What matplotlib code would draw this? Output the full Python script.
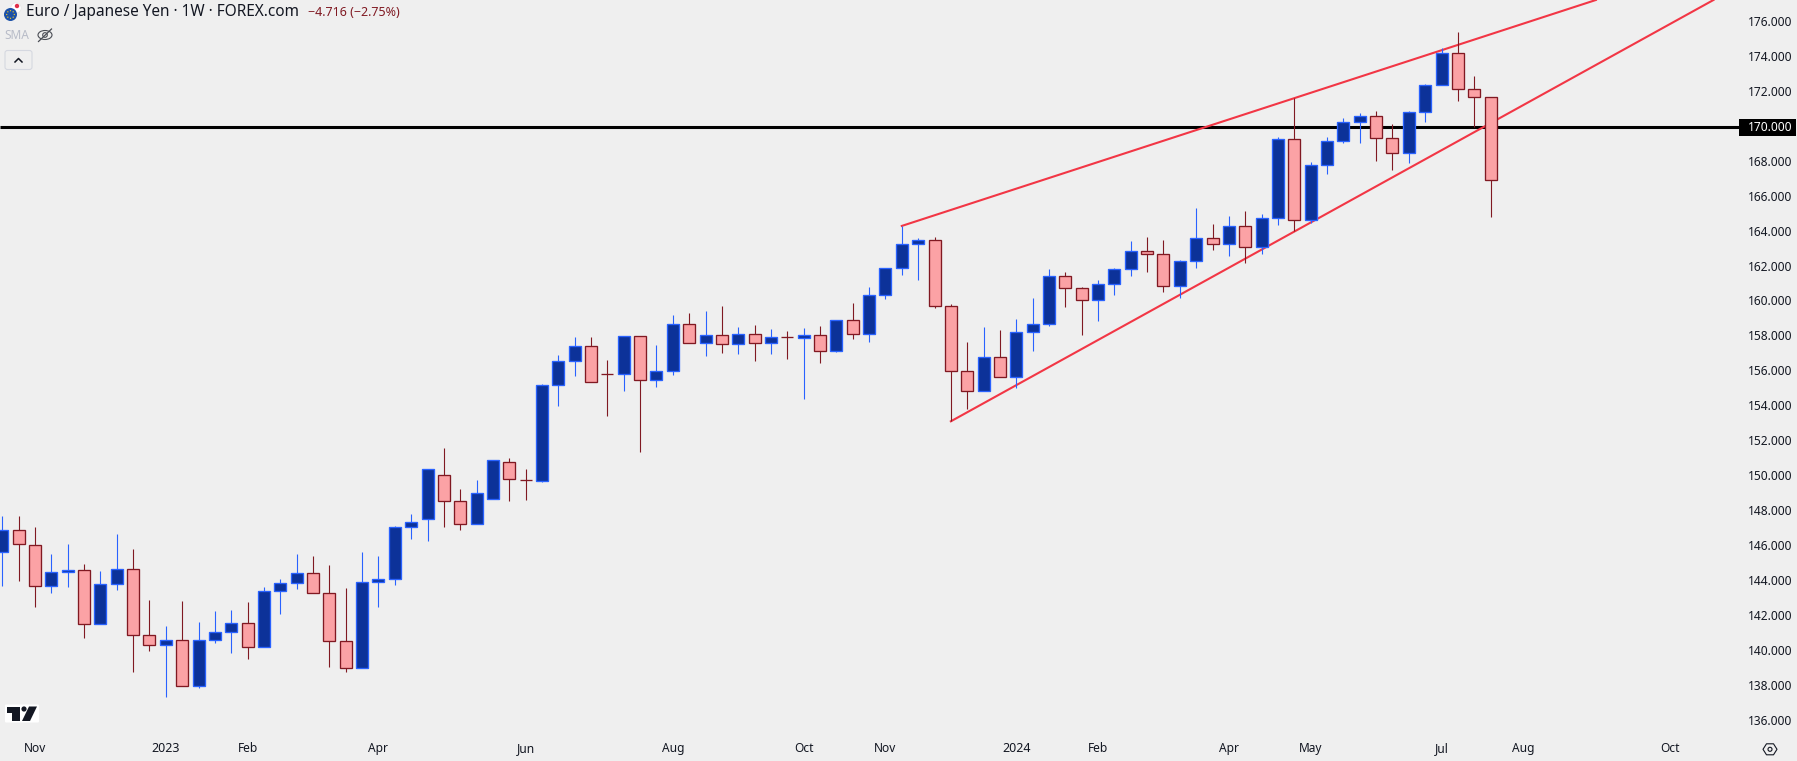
import matplotlib
matplotlib.use("Agg")
import matplotlib.pyplot as plt
from matplotlib.patches import Rectangle, Circle, Polygon, FancyBboxPatch, Ellipse
from matplotlib.lines import Line2D
from matplotlib.transforms import Affine2D, ScaledTranslation
import numpy as np

# Weekly EUR/JPY candles (24 Oct 2022 onward), one entry per week
opens = [145.65, 146.91, 146.05, 143.71, 144.51, 144.62, 141.53, 143.82, 144.68, 140.90,
         140.33, 140.62, 137.98, 140.62, 141.07, 141.59, 140.22, 143.42, 143.88, 144.45,
         143.31, 140.56, 139.01, 143.94, 144.11, 147.08, 147.54, 150.06, 148.57, 147.25,
         148.69, 150.80, 149.81, 149.75, 155.21, 156.58, 157.44, 155.84, 155.84, 158.01,
         155.49, 156.01, 158.70, 157.61, 158.07, 157.55, 158.13, 157.61, 157.96, 157.90,
         158.07, 157.15, 158.93, 158.13, 160.36, 161.90, 163.28, 163.51, 159.73, 156.01,
         154.87, 156.81, 155.67, 158.24, 158.70, 161.45, 160.76, 160.07, 160.99, 161.85,
         162.88, 162.71, 160.87, 162.30, 163.62, 163.28, 164.31, 163.11, 164.77, 169.29,
         164.65, 167.80, 169.17, 170.26, 170.60, 169.34, 168.48, 170.83, 172.38, 174.21,
         172.15, 171.69]
closes = [146.91, 146.11, 143.71, 144.51, 144.62, 141.53, 143.82, 144.68, 140.90, 140.33,
          140.62, 137.98, 140.62, 141.07, 141.59, 140.22, 143.42, 143.88, 144.45, 143.31,
          140.56, 139.01, 143.94, 144.11, 147.08, 147.37, 150.40, 148.57, 147.25, 149.03,
          150.92, 149.83, 149.81, 155.21, 156.58, 157.44, 155.38, 155.84, 158.01, 155.49,
          156.01, 158.70, 157.61, 158.07, 157.55, 158.13, 157.61, 157.96, 157.96, 158.07,
          157.15, 158.93, 158.13, 160.36, 161.90, 163.28, 163.51, 159.73, 156.01, 154.87,
          156.81, 155.67, 158.24, 158.70, 161.45, 160.76, 160.07, 160.99, 161.85, 162.88,
          162.71, 160.87, 162.30, 163.62, 163.28, 164.31, 163.11, 164.77, 169.29, 164.65,
          167.80, 169.17, 170.26, 170.60, 169.34, 168.48, 170.83, 172.38, 174.21, 172.15,
          171.69, 166.94]
highs = [147.73, 147.73, 147.10, 145.56, 146.13, 144.98, 144.58, 146.70, 145.84, 142.92,
         141.44, 142.87, 141.67, 142.30, 142.35, 142.81, 143.67, 144.13, 145.56, 145.44,
         144.93, 143.61, 145.67, 145.44, 147.16, 147.85, 150.40, 151.62, 149.28, 149.79,
         150.92, 151.05, 150.42, 155.29, 156.94, 157.97, 157.97, 156.66, 158.01, 158.01,
         157.52, 159.23, 159.35, 159.46, 159.75, 158.55, 158.66, 158.43, 158.32, 158.49,
         158.60, 158.93, 159.92, 160.84, 161.90, 164.33, 163.64, 163.70, 159.86, 157.69,
         158.55, 158.37, 159.00, 160.21, 161.87, 161.69, 160.84, 161.24, 161.90, 163.47,
         163.70, 163.53, 162.36, 165.36, 164.44, 164.90, 165.18, 165.01, 169.42, 171.63,
         167.97, 169.42, 170.51, 170.79, 170.91, 170.16, 170.91, 172.45, 174.51, 175.43,
         172.91, 171.69]
lows = [143.73, 144.03, 142.52, 143.33, 143.67, 140.75, 141.53, 143.50, 138.80, 140.01,
        137.37, 137.98, 137.89, 140.46, 139.89, 139.55, 140.22, 142.12, 143.55, 143.31,
        139.09, 138.80, 139.01, 142.52, 143.78, 146.42, 146.30, 147.10, 146.93, 147.25,
        148.69, 148.59, 148.65, 149.68, 154.03, 155.74, 155.38, 153.45, 154.88, 151.39,
        155.11, 155.80, 157.61, 156.89, 157.06, 157.00, 156.60, 157.00, 156.72, 154.43,
        156.49, 157.09, 157.86, 157.69, 160.15, 161.52, 161.24, 159.63, 153.15, 153.85,
        154.87, 155.67, 155.06, 157.17, 158.60, 159.69, 158.09, 158.89, 160.38, 161.47,
        161.69, 160.55, 160.21, 161.92, 162.95, 162.61, 162.19, 162.72, 164.38, 164.02,
        164.48, 167.30, 169.06, 169.08, 168.05, 167.53, 167.93, 170.28, 172.38, 171.48,
        169.97, 164.84]

level_price = 170.0
upper_x = [55, 97.44]
upper_y = [164.33, 177.26]
lower_x = [58, 104.63]
lower_y = [153.15, 177.26]

price_ticks = list(range(136, 178, 2))
date_ticks = [2, 10, 15, 23, 32, 41, 49, 54, 62, 67, 75, 80, 88, 93, 102]
date_labels = ["Nov", "2023", "Feb", "Apr", "Jun", "Aug", "Oct", "Nov", "2024",
               "Feb", "Apr", "May", "Jul", "Aug", "Oct"]

BG = "#efefef"
UP_FILL, UP_EDGE = "#0c3299", "#2962ff"
DN_FILL, DN_EDGE = "#fba2a5", "#801922"
TREND = "#f23645"
INK = "#131722"
FONT = "Noto Sans"

W, H = 1797, 761
PANE_R, PANE_B = 1739, 730
plt.rcParams["font.family"] = FONT

fig = plt.figure(figsize=(W / 100, H / 100), dpi=100, facecolor=BG)
ax = fig.add_axes([0, 1 - PANE_B / H, PANE_R / W, PANE_B / H], facecolor=BG)
ax.set_xlim(-0.14, 106.19)
ax.set_ylim(135.485, 177.259)
for s in ax.spines.values():
    s.set_visible(False)

idx = np.arange(len(opens))
o, c, h, l = map(np.array, (opens, closes, highs, lows))
up = c > o
tops, bottoms = np.maximum(o, c), np.minimum(o, c)

ax.axhline(level_price, color="black", lw=2.2, zorder=1, solid_capstyle="butt")
ax.plot(upper_x, upper_y, color=TREND, lw=1.5, zorder=1.6)
ax.plot(lower_x, lower_y, color=TREND, lw=1.5, zorder=1.6)

for mask, fill, edge in ((up, UP_FILL, UP_EDGE), (~up, DN_FILL, DN_EDGE)):
    ax.vlines(idx[mask], l[mask], h[mask], color=edge, lw=0.8, zorder=2)
    ax.bar(idx[mask], (tops - bottoms)[mask], bottom=bottoms[mask], width=12 / 16.355,
           facecolor=fill, edgecolor=edge, linewidth=0.95, zorder=3)

ax.yaxis.tick_right()
ax.set_yticks(price_ticks)
ax.set_yticklabels([f"{p:.3f}" for p in price_ticks])
ax.tick_params(axis="y", length=0, pad=6.3, labelsize=8.6, labelcolor=INK)
ax.set_xticks(date_ticks)
ax.set_xticklabels(date_labels)
ax.tick_params(axis="x", length=0, pad=8.5, labelsize=8.6, labelcolor=INK)
for t in ax.get_xticklabels():
    if t.get_text() in ("2023", "2024"):
        t.set_fontweight("semibold")
        t.set_fontsize(9)
lift = ScaledTranslation(0, 0.8 / 72, fig.dpi_scale_trans)
for t, p in zip(ax.get_yticklabels(), price_ticks):
    t.set_transform(t.get_transform() + lift)
    if p == level_price:
        t.set_color("white")
        t.set_fontweight("semibold")

# overlay elements placed in image pixels (y measured from the top)
px = Affine2D().scale(1, -1).translate(0, H)

def add(artist):
    artist.set_transform(px)
    artist.set_clip_on(False)
    ax.add_artist(artist)
    return artist

add(Rectangle((1739, 119), 57, 17, facecolor="black", edgecolor="none", zorder=1.2))

def label(x, y, s, **kw):
    y_fig = (H - y) / H
    fig.text(x / W, y_fig, s, va="center", ha=kw.pop("ha", "left"), **kw)

label(26, 12.5, "Euro / Japanese Yen · 1W · FOREX.com", fontsize=11.05, color=INK)
label(308, 12.5, "−4.716 (−2.75%)", fontsize=9.0, color=DN_EDGE)
label(4, 35.5, "SMA", fontsize=8.6, color="#b8bcc8")

# currency flags
add(Circle((16, 8), 5.2, facecolor="white", edgecolor="#e6e6e6", lw=0.5, zorder=5))
add(Circle((17, 6), 2.2, facecolor="#e0304a", edgecolor="none", zorder=5.1))
add(Circle((10.5, 14.5), 6.5, facecolor="#1b51a8", edgecolor="none", zorder=5.2))
for a in np.arange(0, 2 * np.pi, np.pi / 4):
    add(Circle((10.5 + 3.8 * np.cos(a), 14.5 + 3.8 * np.sin(a)), 0.65,
               facecolor="#f2c61f", edgecolor="none", zorder=5.3))

# crossed eye
add(Ellipse((45, 35), 14, 9, facecolor="none", edgecolor="#4a4d55", lw=0.8, zorder=5))
add(Circle((45, 35), 2.3, facecolor="none", edgecolor="#4a4d55", lw=0.8, zorder=5))
add(Line2D([38.5, 51.5], [41.5, 29], color="#4a4d55", lw=0.9, zorder=5))

# collapse button
add(FancyBboxPatch((5, 50.5), 27, 19, boxstyle="round,pad=0,rounding_size=2.5",
                   facecolor=BG, edgecolor="#d5d8e0", lw=0.8, zorder=5))
add(Line2D([15, 18.5, 22], [62, 58.5, 62], color=INK, lw=1.1, zorder=5.1))

# chart logo
add(FancyBboxPatch((5, 704.5), 34, 18, boxstyle="round,pad=0,rounding_size=1",
                   facecolor="white", edgecolor="none", zorder=5))
add(Polygon([(7, 706.5), (20, 706.5), (20, 721), (12, 721), (12, 712.5), (7, 712.5)],
            closed=True, facecolor=INK, edgecolor="none", zorder=5.1))
add(Circle((24, 709), 2.6, facecolor=INK, edgecolor="none", zorder=5.1))
add(Polygon([(29, 706.5), (37, 706.5), (30, 721), (22, 721)],
            closed=True, facecolor=INK, edgecolor="none", zorder=5.1))

# settings hexagon
hx = 1770; hy = 749.3
add(Polygon([(hx - 7, hy), (hx - 3.5, hy - 5.5), (hx + 3.5, hy - 5.5),
             (hx + 7, hy), (hx + 3.5, hy + 5.5), (hx - 3.5, hy + 5.5)],
            closed=True, facecolor="none", edgecolor=INK, lw=0.8, zorder=5))
add(Circle((hx, hy), 2, facecolor="none", edgecolor=INK, lw=0.8, zorder=5))

fig.savefig("out.png", dpi=100, facecolor=BG)
